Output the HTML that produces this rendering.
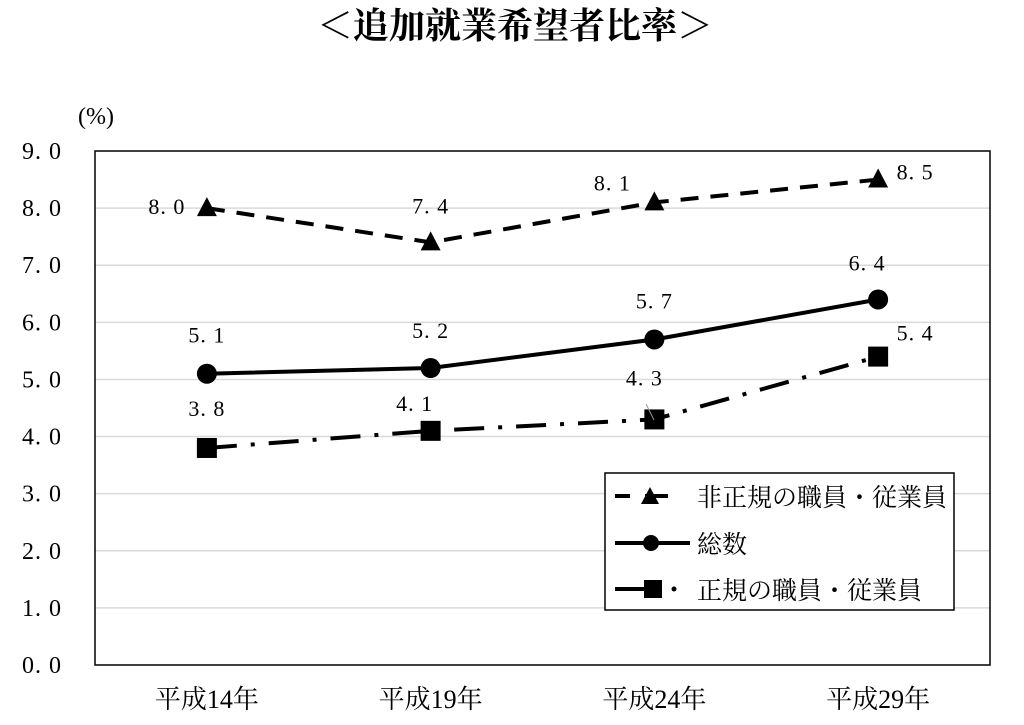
<!DOCTYPE html>
<html><head><meta charset="utf-8">
<style>
body{margin:0;background:#fff;}
svg text{font-family:"Liberation Serif","Noto Serif CJK SC",serif;fill:#000;}
</style></head>
<body>
<svg width="1024" height="720" xmlns="http://www.w3.org/2000/svg">
<text x="515" y="38" text-anchor="middle" font-size="36" font-weight="bold">＜追加就業希望者比率＞</text>
<text x="96" y="124" text-anchor="middle" font-size="24">(%)</text>
<g id="grid"></g>
<rect x="95" y="151" width="895" height="514" fill="none" stroke="#000" stroke-width="1.5"/>
<g id="marks"></g>
<g>
<rect x="605" y="473" width="349" height="137" fill="#fff" stroke="#000" stroke-width="1.5"/>
<g>
<line x1="615" y1="496" x2="630" y2="496" stroke="#000" stroke-width="4"/>
<line x1="645" y1="496" x2="668" y2="496" stroke="#000" stroke-width="4"/>
<polygon points="650,487 659,504 641,504" fill="#000"/>
<text x="697" y="506" font-size="25">非正規の職員・従業員</text></g>
<g>
<line x1="615" y1="543" x2="690" y2="543" stroke="#000" stroke-width="4"/>
<circle cx="651" cy="543" r="8" fill="#000"/>
<text x="697" y="553" font-size="25">総数</text></g>
<g>
<line x1="615" y1="589" x2="650" y2="589" stroke="#000" stroke-width="4"/>
<rect x="644" y="580" width="18" height="18" fill="#000"/>
<circle cx="674" cy="589" r="2.5" fill="#000"/>
<text x="697" y="599" font-size="25">正規の職員・従業員</text></g>
</g>
</svg>
<script>
const categories=["平成14年","平成19年","平成24年","平成29年"];
const nonRegular=[8.0,7.4,8.1,8.5];
const total=[5.1,5.2,5.7,6.4];
const regular=[3.8,4.1,4.3,5.4];
const yTicks=[0,1,2,3,4,5,6,7,8,9];
const NS="http://www.w3.org/2000/svg";
const L=95,R=990,T=151,B=665;
const x=i=>L+(R-L)/categories.length*(i+0.5);
const y=v=>B-(B-T)*v/9;
const grid=document.getElementById('grid'),marks=document.getElementById('marks');
function mk(tag,attrs,parent){const e=document.createElementNS(NS,tag);for(const k in attrs)e.setAttribute(k,attrs[k]);parent.appendChild(e);return e;}
yTicks.forEach(v=>{
 if(v>0&&v<9){const g=mk('line',{x1:L,x2:R,y1:y(v),y2:y(v),stroke:'#d9d9d9','stroke-width':1.5},grid);
 
 }
 const t=mk('text',{x:62,y:y(v)+8,'text-anchor':'end','font-size':24,'letter-spacing':'1'},grid);
 t.textContent=v.toFixed(1).replace('.','. ');
 
 
});
categories.forEach((c,i)=>{
 const t=mk('text',{x:x(i),y:708,'text-anchor':'middle','font-size':26},grid);
 t.textContent=c;
 
 
});
function series(vals,name,dash,marker,labelOff){
 const g=mk('g',{},marks);
 
 
 const p=mk('polyline',{points:vals.map((v,i)=>x(i)+','+y(v)).join(' '),fill:'none',stroke:'#000','stroke-width':4,'stroke-dasharray':dash},g);
 
 
 vals.forEach((v,i)=>{
  let m;
  if(marker==='tri')m=mk('polygon',{points:`${x(i)},${y(v)-11} ${x(i)+10},${y(v)+8} ${x(i)-10},${y(v)+8}`,fill:'#000'},g);
  else if(marker==='circ')m=mk('circle',{cx:x(i),cy:y(v),r:10,fill:'#000'},g);
  else m=mk('rect',{x:x(i)-10,y:y(v)-10,width:20,height:20,fill:'#000'},g);
  
  
  const o=labelOff[i];
  const t=mk('text',{x:x(i)+o[0],y:y(v)+o[1],'text-anchor':'middle','font-size':22,'letter-spacing':'1'},g);
  t.textContent=v.toFixed(1).replace('.','. ');
  
  
 });
}
series(nonRegular,'nonregular-series','18 12','tri',[[-40,6],[0,-29],[-42,-12],[37,0]]);
series(total,'total-series','','circ',[[0,-31],[0,-30],[0,-31],[-11,-29]]);
series(regular,'regular-series','30 14 4 14','sq',[[0,-32],[-16,-20],[-10,-34],[37,-16]]);
const ld=mk('line',{x1:646,y1:404,x2:654,y2:420,stroke:'#999','stroke-width':1},marks);


</script>
</body></html>
